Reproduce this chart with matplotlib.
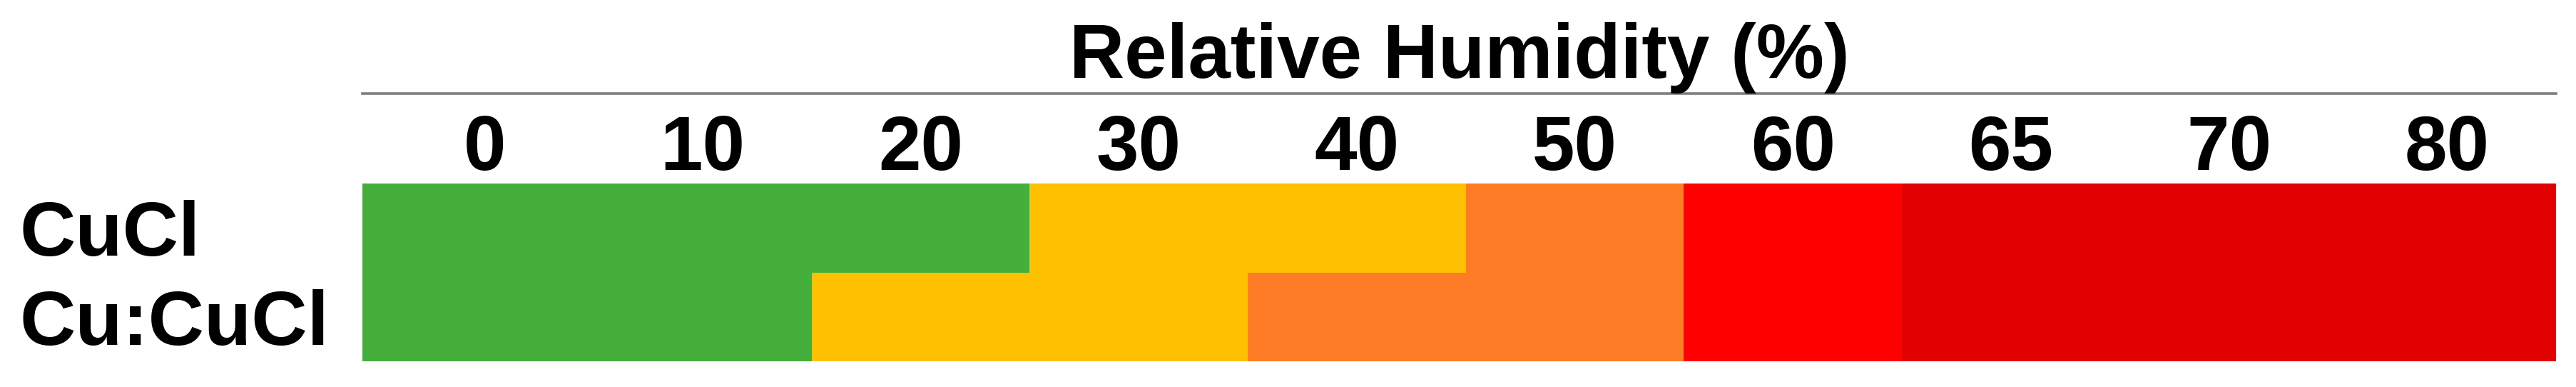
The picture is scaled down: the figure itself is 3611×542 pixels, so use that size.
import numpy as np
import matplotlib
matplotlib.use("Agg")
import matplotlib.pyplot as plt
from matplotlib.colors import ListedColormap
from matplotlib.lines import Line2D

# humidity steps (columns) and the two samples (rows)
rh_labels = ["0", "10", "20", "30", "40", "50", "60", "65", "70", "80"]
samples = ["CuCl", "Cu:CuCl"]

# state index per column: 0 green, 1 yellow, 2 orange, 3 red, 4 dark red
cucl_state = [0, 0, 0, 1, 1, 2, 3, 4, 4, 4]
cu_cucl_state = [0, 0, 1, 1, 2, 2, 3, 4, 4, 4]

state_colors = ["#45AF3B", "#FFC000", "#FF7C26", "#FF0000", "#E00000"]

plt.rcParams['font.family'] = ['Liberation Sans', 'DejaVu Sans']
plt.rcParams['font.weight'] = 'bold'

W, H = 3611, 542
fig = plt.figure(figsize=(W / 100, H / 100), dpi=100)
# first column is drawn a little wider than the rest in the source
x0 = -0.06
ax = fig.add_axes([508 / W, 1 - 506 / H, (3583 - 508) / W, (506 - 257) / H])

grid = np.array([cucl_state, cu_cucl_state])
cmap = ListedColormap(state_colors)
col_edges = np.arange(len(rh_labels) + 1, dtype=float)
col_edges[0] = x0
ax.pcolormesh(col_edges, np.arange(len(samples) + 1), grid,
              cmap=cmap, vmin=-0.5, vmax=len(state_colors) - 0.5,
              shading='flat', antialiased=False, linewidth=0)
ax.set_xlim(x0, len(rh_labels))
ax.set_ylim(len(samples), 0)

for s in ax.spines.values():
    s.set_visible(False)

ax.xaxis.tick_top()
ax.set_xticks(np.arange(len(rh_labels)) + 0.5, labels=rh_labels)
ax.tick_params(axis='x', length=0, pad=-2, labelsize=77)

ax.set_yticks(np.arange(len(samples)) + 0.5, labels=samples)
ax.tick_params(axis='y', length=0, pad=(508 - 27) * 0.72, labelsize=78)
for lab in ax.get_yticklabels():
    lab.set_horizontalalignment('left')

# line under the header
fig.add_artist(Line2D([508 / W, 3583 / W], [1 - 131 / H, 1 - 131 / H],
                      color='#7F7F7F', linewidth=2.6, transform=fig.transFigure))

fig.text(2046 / W, 1 - 109 / H, "Relative Humidity (%)", ha='center', va='baseline',
         fontsize=77, fontweight='bold')

fig.savefig("out.png", dpi=100, facecolor='white')
